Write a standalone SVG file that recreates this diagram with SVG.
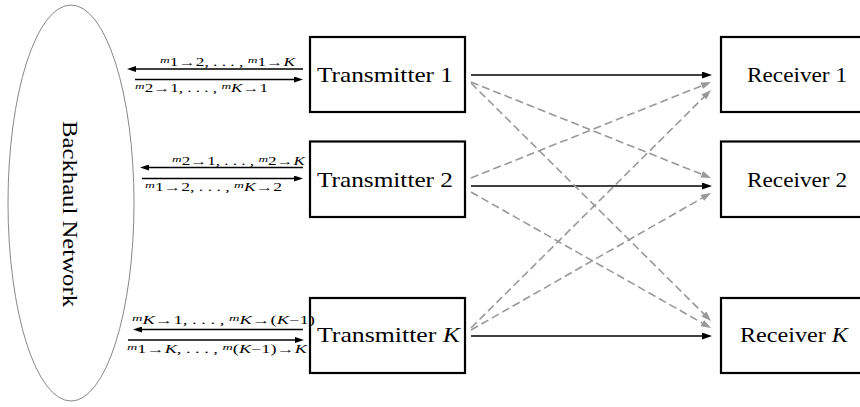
<svg xmlns="http://www.w3.org/2000/svg" width="860" height="407" viewBox="0 0 860 407">
<style>
.box{fill:#fff;stroke:#000;stroke-width:2.2}
.t{font-family:"Liberation Serif","Times New Roman",serif;font-size:22px;fill:#000}
.i{font-style:italic}
.lbl{font-family:"Liberation Serif","Times New Roman",serif;font-size:11.5px;fill:#000}
.m{font-size:9px;font-style:italic}
.solid{stroke:#000;stroke-width:1.5;fill:none}
.thin{stroke:#000;stroke-width:1.3;fill:none}
.dash{stroke:#999;stroke-width:1.6;fill:none;stroke-dasharray:8 4}
</style>
<defs>
<marker id="ah" markerUnits="userSpaceOnUse" markerWidth="10" markerHeight="7" refX="6" refY="3.5" orient="auto"><path d="M0,0L10,3.5L0,7z" fill="#000"/></marker>
<marker id="ahs" markerUnits="userSpaceOnUse" markerWidth="9" markerHeight="6" refX="5" refY="3" orient="auto"><path d="M0,0L9,3L0,6z" fill="#000"/></marker>
<marker id="ahg" markerUnits="userSpaceOnUse" markerWidth="10" markerHeight="7" refX="6" refY="3.5" orient="auto"><path d="M0,0L10,3.5L0,7z" fill="#999"/></marker>
</defs>
<g id="backhaul">
<ellipse cx="71" cy="203" rx="63" ry="198" fill="none" stroke="#888" stroke-width="1"/>
<text class="t" transform="translate(63,214) rotate(90)" text-anchor="middle" textLength="186" lengthAdjust="spacingAndGlyphs">Backhaul Network</text>
</g>
<g id="tx1"><rect class="box" x="310" y="37" width="155" height="75"/><text class="t" x="317" y="82" textLength="136" lengthAdjust="spacingAndGlyphs">Transmitter 1</text></g>
<g id="tx2"><rect class="box" x="310" y="141.5" width="155" height="75.5"/><text class="t" x="317" y="187" textLength="136" lengthAdjust="spacingAndGlyphs">Transmitter 2</text></g>
<g id="txK"><rect class="box" x="310" y="298" width="155" height="75"/><text class="t" x="317" y="342" textLength="143" lengthAdjust="spacingAndGlyphs">Transmitter <tspan class="i">K</tspan></text></g>
<g id="rx1"><rect class="box" x="721" y="37" width="155" height="75"/><text class="t" x="747" y="82" textLength="100" lengthAdjust="spacingAndGlyphs">Receiver 1</text></g>
<g id="rx2"><rect class="box" x="721" y="141.5" width="155" height="75.5"/><text class="t" x="747" y="187" textLength="100" lengthAdjust="spacingAndGlyphs">Receiver 2</text></g>
<g id="rxK"><rect class="box" x="721" y="298" width="155" height="75"/><text class="t" x="740" y="342" textLength="108" lengthAdjust="spacingAndGlyphs">Receiver <tspan class="i">K</tspan></text></g>
<g id="connectors">
<line class="solid" x1="471" y1="75" x2="708" y2="75" marker-end="url(#ah)"/>
<line class="solid" x1="471" y1="186" x2="708" y2="186" marker-end="url(#ah)"/>
<line class="solid" x1="471" y1="336" x2="708" y2="336" marker-end="url(#ah)"/>
<line class="dash" x1="471" y1="82" x2="707.3" y2="176.5" marker-end="url(#ahg)"/>
<line class="dash" x1="471" y1="83" x2="708.2" y2="318.2" marker-end="url(#ahg)"/>
<line class="dash" x1="471" y1="178" x2="707.3" y2="83.5" marker-end="url(#ahg)"/>
<line class="dash" x1="471" y1="192" x2="707.5" y2="326" marker-end="url(#ahg)"/>
<line class="dash" x1="471" y1="328" x2="708.2" y2="92.8" marker-end="url(#ahg)"/>
<line class="dash" x1="471" y1="330" x2="707.5" y2="195" marker-end="url(#ahg)"/>
<line class="thin" x1="303" y1="69" x2="131" y2="69" marker-end="url(#ahs)"/>
<line class="thin" x1="135" y1="79.5" x2="299" y2="79.5" marker-end="url(#ahs)"/>
<line class="thin" x1="303" y1="167.5" x2="144" y2="167.5" marker-end="url(#ahs)"/>
<line class="thin" x1="142" y1="178.5" x2="299" y2="178.5" marker-end="url(#ahs)"/>
<line class="thin" x1="303" y1="329.5" x2="137" y2="329.5" marker-end="url(#ahs)"/>
<line class="thin" x1="128" y1="340" x2="300" y2="340" marker-end="url(#ahs)"/>
</g>
<g id="labels">
<text class="lbl" x="160" y="66" textLength="135" lengthAdjust="spacingAndGlyphs"><tspan class="m" dy="-3">m</tspan><tspan dy="3">1→2</tspan>, . . . , <tspan class="m" dy="-3">m</tspan><tspan dy="3">1→<tspan class="i">K</tspan></tspan></text>
<text class="lbl" x="135" y="92" textLength="133" lengthAdjust="spacingAndGlyphs"><tspan class="m" dy="-3">m</tspan><tspan dy="3">2→1</tspan>, . . . , <tspan class="m" dy="-3">m</tspan><tspan dy="3"><tspan class="i">K</tspan>→1</tspan></text>
<text class="lbl" x="172" y="164.5" textLength="133" lengthAdjust="spacingAndGlyphs"><tspan class="m" dy="-3">m</tspan><tspan dy="3">2→1</tspan>, . . . , <tspan class="m" dy="-3">m</tspan><tspan dy="3">2→<tspan class="i">K</tspan></tspan></text>
<text class="lbl" x="145" y="191" textLength="137" lengthAdjust="spacingAndGlyphs"><tspan class="m" dy="-3">m</tspan><tspan dy="3">1→2</tspan>, . . . , <tspan class="m" dy="-3">m</tspan><tspan dy="3"><tspan class="i">K</tspan>→2</tspan></text>
<text class="lbl" x="132" y="324" textLength="183" lengthAdjust="spacingAndGlyphs"><tspan class="m" dy="-3">m</tspan><tspan dy="3"><tspan class="i">K</tspan>→1</tspan>, . . . , <tspan class="m" dy="-3">m</tspan><tspan dy="3"><tspan class="i">K</tspan>→(<tspan class="i">K</tspan>−1)</tspan></text>
<text class="lbl" x="127" y="353" textLength="180" lengthAdjust="spacingAndGlyphs"><tspan class="m" dy="-3">m</tspan><tspan dy="3">1→<tspan class="i">K</tspan></tspan>, . . . , <tspan class="m" dy="-3">m</tspan><tspan dy="3">(<tspan class="i">K</tspan>−1)→<tspan class="i">K</tspan></tspan></text>
</g>
</svg>
